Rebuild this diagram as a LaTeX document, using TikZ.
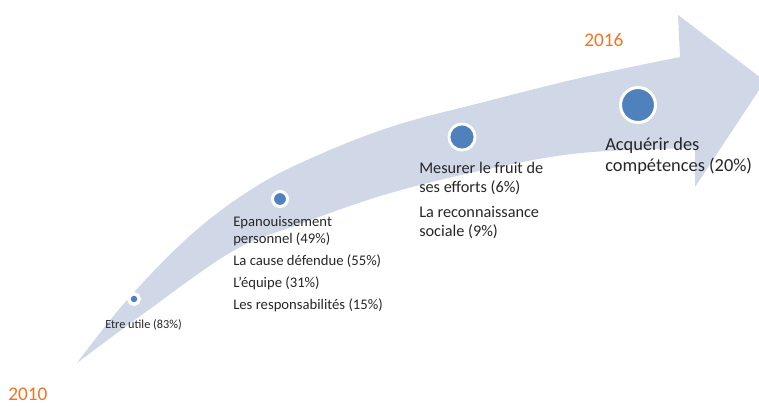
\documentclass[tikz,border=0pt]{standalone}
\usepackage{fontspec}
\setmainfont{Carlito}
\usepackage{xcolor}
\definecolor{BandGray}{HTML}{D0D8E8}
\definecolor{DotBlue}{HTML}{4F81BD}
\definecolor{YearOrange}{HTML}{F5731F}
\definecolor{TextGray}{HTML}{262626}
\usepackage{tikz}
\tikzset{
  yearlbl/.style={text=YearOrange, font=\fontsize{14.5}{16}\selectfont, inner sep=0pt, anchor=north west},
  steptxt/.style={align=left, inner sep=0pt, anchor=north west, text=TextGray},
  stepdot/.style={circle, fill=DotBlue, draw=white, inner sep=0pt}
}

\begin{document}
\begin{tikzpicture}[x=0.75pt, y=-0.75pt]
\useasboundingbox (0,0) rectangle (759,405);
\clip (0,0) rectangle (759,405);
% curved arrow
\fill[BandGray] plot[smooth, tension=0.6] coordinates {(77,363) (127,300) (193,233) (260,184) (330,150) (400,124) (480,103) (580,78) (680,57)}
  -- (678,15) -- (765,81) -- (695,187)
  -- plot[smooth, tension=0.6] coordinates {(695,148) (581,153) (484,170) (387,194) (300,224) (233,251) (143,314) (77,363)} -- cycle;

\node[stepdot, minimum size=7.9pt, line width=2.6pt] (dot1) at (134,299) {};
\node[stepdot, minimum size=11.25pt, line width=2.25pt] (dot2) at (280,199) {};
\node[stepdot, minimum size=19.6pt, line width=2.1pt] (dot3) at (462,137) {};
\node[stepdot, minimum size=26.25pt, line width=2.25pt] (dot4) at (638,105) {};

\node[steptxt, font=\fontsize{9.2}{11}\selectfont] (txt1) at (105,319) {Etre utile (83\%)};
\node[steptxt, font=\fontsize{11}{12.75}\selectfont] (txt2) at (233,216) {Epanouissement\\personnel (49\%)\\[3.75pt]La cause défendue (55\%)\\[3.75pt]L'équipe (31\%)\\[3.75pt]Les responsabilités (15\%)};
\node[steptxt, font=\fontsize{12.2}{14.25}\selectfont] (txt3) at (419,162) {Mesurer le fruit de\\ses efforts (6\%)\\[4.5pt]La reconnaissance\\sociale (9\%)};
\node[steptxt, font=\fontsize{13.8}{15.75}\selectfont] (txt4) at (605,137) {Acquérir des\\compétences (20\%)};

\node[yearlbl] (y2010) at (8,388) {2010};
\node[yearlbl] (y2016) at (584,33) {2016};
\end{tikzpicture}
\end{document}
